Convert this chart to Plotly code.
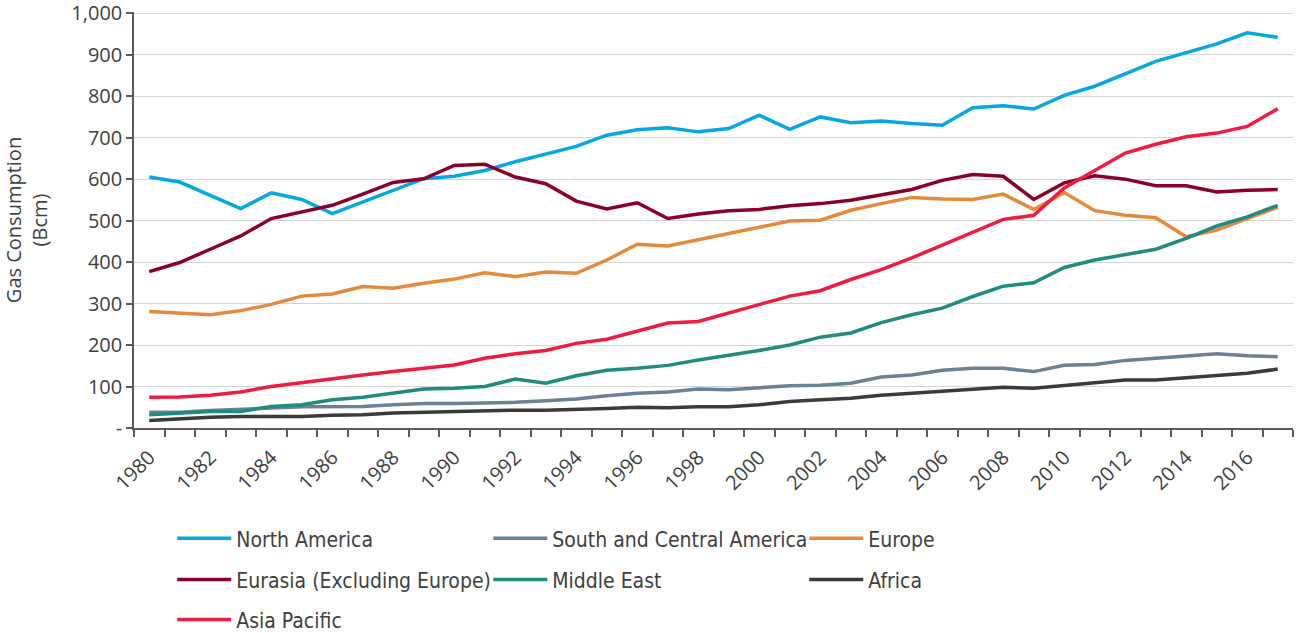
import plotly.graph_objects as go

years = list(range(1980, 2018))

north_america = [605, 593, 561, 529, 567, 551, 517, 545, 572, 601, 607, 621, 642, 660, 679, 706, 719, 724, 714, 722,
                 754, 720, 750, 736, 740, 734, 730, 772, 777, 769, 802, 824, 854, 884, 905, 926, 953, 942]
south_central_america = [38, 38, 42, 44, 48, 51, 52, 52, 56, 59, 59, 60, 62, 66, 70, 78, 84, 87, 94, 92,
                         96, 102, 103, 108, 123, 128, 139, 144, 144, 136, 151, 153, 163, 168, 172, 179, 174, 172]
europe = [281, 278, 273, 283, 298, 318, 323, 341, 337, 349, 359, 374, 365, 376, 373, 405, 443, 439, 453, 469,
          484, 499, 501, 525, 541, 556, 552, 551, 564, 527, 568, 524, 513, 507, 461, 477, 505, 532]
eurasia = [377, 399, 431, 463, 505, 520, 537, 564, 592, 601, 633, 636, 605, 589, 547, 528, 543, 505, 516, 524,
           527, 536, 541, 549, 563, 575, 597, 611, 607, 551, 591, 608, 600, 584, 584, 569, 573, 575]
middle_east = [32, 36, 40, 40, 52, 56, 68, 74, 83, 94, 96, 100, 118, 108, 126, 139, 144, 151, 164, 175,
               187, 200, 219, 229, 254, 273, 289, 317, 342, 350, 387, 405, 419, 431, 457, 487, 509, 537]
africa = [18, 23, 26, 28, 28, 28, 31, 32, 36, 38, 40, 41, 43, 43, 44, 47, 50, 49, 51, 51,
          56, 64, 68, 72, 79, 84, 88, 95, 98, 96, 103, 108, 116, 116, 122, 128, 132, 142]
asia_pacific = [74, 75, 79, 87, 100, 110, 120, 128, 136, 144, 152, 168, 179, 187, 204, 214, 233, 253, 257, 278,
                299, 318, 331, 358, 382, 410, 441, 473, 503, 513, 579, 621, 663, 684, 702, 711, 727, 770]

series = [
    ("North America", north_america, "#05a8e2", "legend"),
    ("South and Central America", south_central_america, "#6a8297", "legend"),
    ("Europe", europe, "#e68a3a", "legend"),
    ("Eurasia (Excluding Europe)", eurasia, "#8b0029", "legend2"),
    ("Middle East", middle_east, "#1f8c81", "legend2"),
    ("Africa", africa, "#3b3b3b", "legend2"),
    ("Asia Pacific", asia_pacific, "#ef1b42", "legend3"),
]

y_ticks = list(range(0, 1001, 100))
y_tick_text = ["-"] + [f"{v:,}" for v in y_ticks[1:]]
x_label_years = list(range(1980, 2017, 2))

text_color = "#404040"
axis_color = "#5a5a5a"
grid_color = "#d4d4d4"

fig = go.Figure()
for name, values, color, leg in series:
    fig.add_trace(go.Scatter(
        x=years, y=values, name=name, mode="lines",
        line=dict(color=color, width=3.5),
        legend=leg,
    ))

legend_common = dict(
    orientation="h", xref="paper", yref="paper", x=0.033, xanchor="left",
    yanchor="middle", entrywidth=247, entrywidthmode="pixels", itemwidth=54,
    font=dict(family="DejaVu Sans Condensed", size=21, color=text_color),
    bgcolor="rgba(0,0,0,0)", traceorder="normal",
)

fig.update_layout(
    width=1300, height=633,
    margin=dict(l=134, r=7, t=12, b=205, autoexpand=False),
    paper_bgcolor="white", plot_bgcolor="white",
    font=dict(family="Open Sans", size=20, color=text_color),
    showlegend=True,
    legend=dict(legend_common, y=-0.266),
    legend2=dict(legend_common, y=-0.365),
    legend3=dict(legend_common, y=-0.461),
    xaxis=dict(
        range=[1979.5, 2017.5],
        tickmode="array", tickvals=x_label_years, ticktext=[str(y) for y in x_label_years],
        tickangle=-45, ticks="outside", ticklen=8, tickcolor="rgba(0,0,0,0)",
        tickfont=dict(family="Open Sans", size=20, color=text_color),
        showgrid=False, zeroline=False,
        showline=True, linecolor=axis_color, linewidth=1.5,
        minor=dict(tickmode="linear", tick0=1979.5, dtick=1, ticks="outside",
                   ticklen=7, tickcolor=axis_color, tickwidth=1.5, showgrid=False),
    ),
    yaxis=dict(
        range=[0, 1003],
        tickmode="array", tickvals=y_ticks, ticktext=y_tick_text,
        ticks="outside", ticklen=6, tickcolor=axis_color, tickwidth=1.5,
        tickfont=dict(family="Open Sans", size=20, color=text_color),
        ticklabeloverflow="allow",
        showgrid=True, gridcolor=grid_color, gridwidth=1.4,
        zeroline=False, showline=True, linecolor=axis_color, linewidth=1.5,
        title=dict(text="Gas Consumption<br>(Bcm)", standoff=34,
                   font=dict(family="Open Sans", size=20, color=text_color)),
    ),
)

fig.write_html("out.html")
